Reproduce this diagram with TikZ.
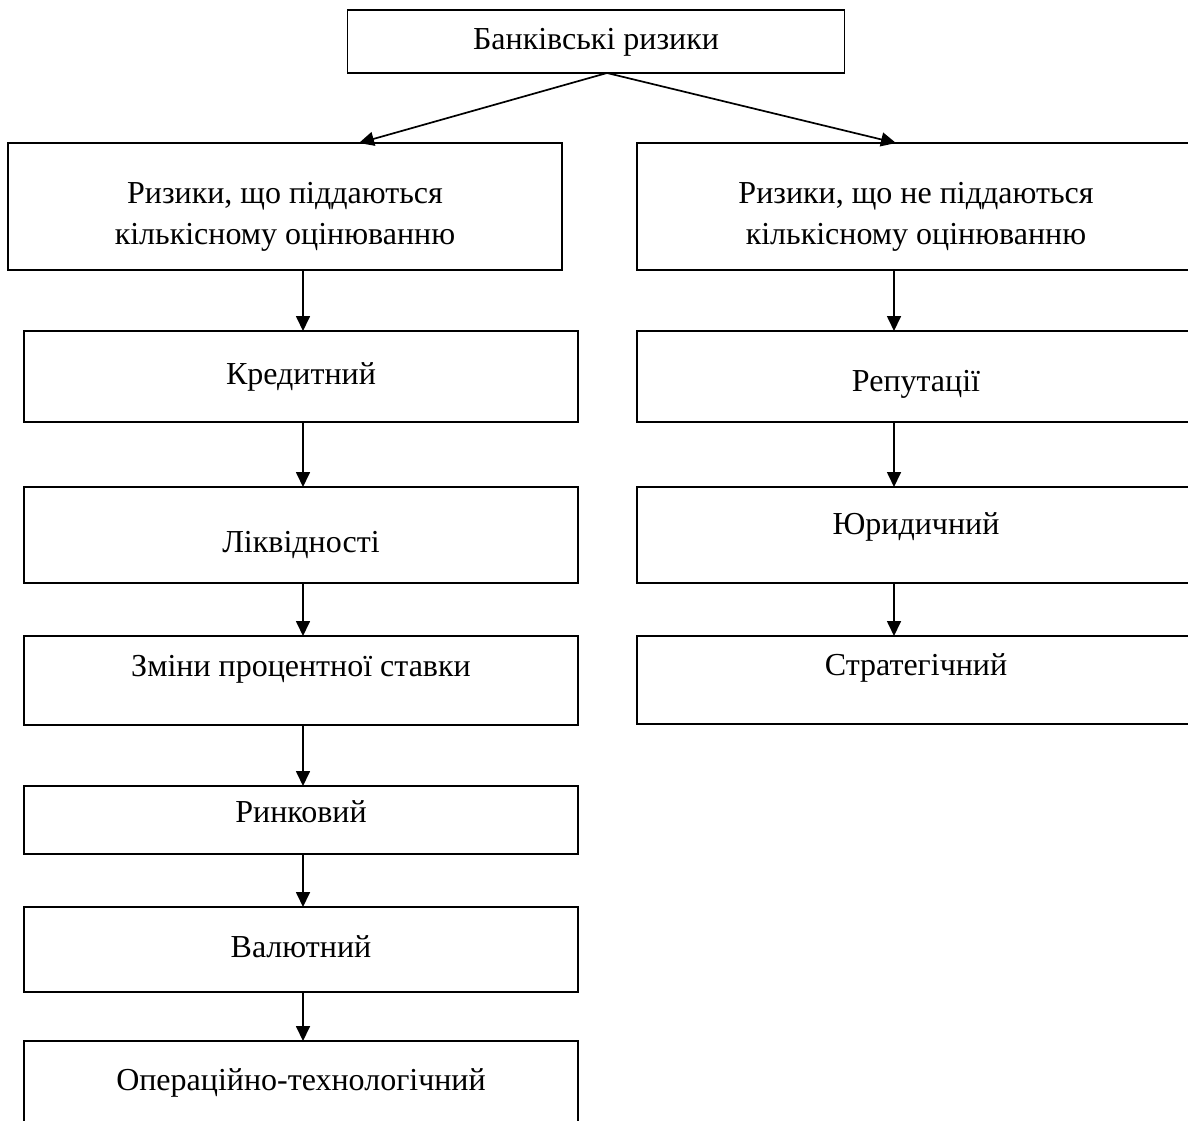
\documentclass[tikz,border=0pt]{standalone}
\usepackage{fontspec}
\setmainfont{Liberation Serif}
\usetikzlibrary{arrows.meta}

\begin{document}
\begin{tikzpicture}[x=1pt, y=-1pt,
    riskbox/.style={rectangle, draw, line width=1.8pt, inner sep=0pt, outer sep=0pt,
        minimum width=554pt, text height=22pt, text depth=7pt,
        font=\fontsize{32pt}{41pt}\selectfont},
    twoline/.style={riskbox, align=center, text height=83pt, text depth=7pt},
    arr/.style={-{Triangle[length=15pt,width=14pt]}, line width=1.7pt}]
                    \clip (0,0) rectangle (1188,1120);
                    \node (top) [riskbox, minimum width=497pt, minimum height=63pt] at (596,41.5) {Банківські ризики};
                    \node (q) [twoline, minimum height=127pt] at (285,206.5) {Ризики, що піддаються\\кількісному оцінюванню};
                    \node (nq) [twoline, minimum width=558pt, minimum height=127pt] at (916,206.5) {Ризики, що не піддаються\\кількісному оцінюванню};
                    \coordinate (lcol) at (303,0);
                    \coordinate (rcol) at (894,0);
                    % left column
                    \node (cred) [riskbox, minimum height=91pt] at (301,376.5) {Кредитний};
                    \node (liq) [riskbox, minimum height=96pt, text height=42pt] at (301,535) {Ліквідності};
                    \node (rate) [riskbox, minimum height=89pt, text depth=31pt] at (301,680.5) {Зміни процентної ставки};
                    \node (mark) [riskbox, minimum height=68pt, text depth=17pt] at (301,820) {Ринковий};
                    \node (cur) [riskbox, minimum height=85pt] at (301,949.5) {Валютний};
                    \node (oper) [riskbox, minimum height=84pt] at (301,1083) {Операційно-технологічний};
                    % right column
                    \node (rep) [riskbox, minimum width=558pt, minimum height=91pt, text height=36pt] at (916,376.5) {Репутації};
                    \node (jur) [riskbox, minimum width=558pt, minimum height=96pt, text depth=23pt] at (916,535) {Юридичний};
                    \node (strat) [riskbox, minimum width=558pt, minimum height=88pt, text depth=31pt] at (916,680) {Стратегічний};
                    \path[arr] ([xshift=11pt]top.south) edge ([xshift=74pt]q.north);
                    \path[arr] ([xshift=11pt]top.south) edge ([xshift=-20pt]nq.north);
                    \path[arr] (q.south -| lcol) edge (cred.north -| lcol);
                    \path[arr] (cred.south -| lcol) edge (liq.north -| lcol);
                    \path[arr] (liq.south -| lcol) edge (rate.north -| lcol);
                    \path[arr] (rate.south -| lcol) edge (mark.north -| lcol);
                    \path[arr] (mark.south -| lcol) edge (cur.north -| lcol);
                    \path[arr] (cur.south -| lcol) edge (oper.north -| lcol);
                    \path[arr] (nq.south -| rcol) edge (rep.north -| rcol);
                    \path[arr] (rep.south -| rcol) edge (jur.north -| rcol);
                    \path[arr] (jur.south -| rcol) edge (strat.north -| rcol);
\end{tikzpicture}
\end{document}
